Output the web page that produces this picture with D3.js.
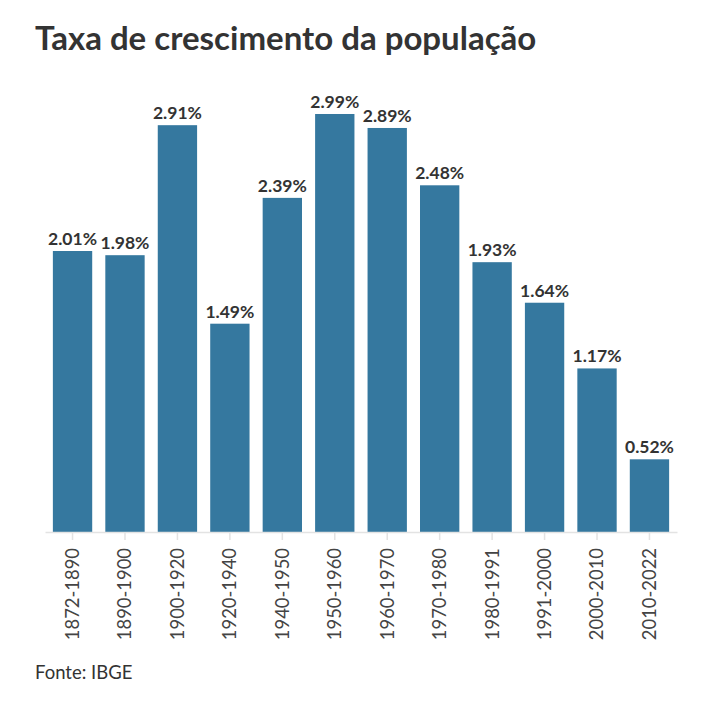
<!DOCTYPE html>
<html><head><meta charset="utf-8">
<script src="https://cdn.jsdelivr.net/npm/d3@7"></script>
<style>body{margin:0;background:#fff;} svg{display:block;}</style>
</head><body>
<script>
const periods = ["1872-1890","1890-1900","1900-1920","1920-1940","1940-1950","1950-1960","1960-1970","1970-1980","1980-1991","1991-2000","2000-2010","2010-2022"];
const rates = [2.01,1.98,2.91,1.49,2.39,2.99,2.89,2.48,1.93,1.64,1.17,0.52];
const title = "Taxa de crescimento da população";
const source = "Fonte: IBGE";

const W = 720, H = 707;
const font = "Lato, 'Source Sans Pro', sans-serif";
const svg = d3.select("body").append("svg").attr("width", W).attr("height", H);

const x = d3.scaleBand().domain(periods).range([45, 677]).paddingInner(0.25).paddingOuter(0.15);
const y = d3.scaleLinear().domain([0, 3]).range([532, 112.6]);

svg.append("text").attr("x", 35).attr("y", 50).text(title)
  .attr("font-family", font).attr("font-weight", 700).attr("font-size", 33).attr("fill", "#333");

svg.selectAll("rect.bar").data(rates).join("rect").attr("class","bar")
  .attr("x", (d,i) => x(periods[i])).attr("width", x.bandwidth())
  .attr("y", d => y(d)).attr("height", d => y(0) - y(d)).attr("fill", "#35789f");

svg.selectAll("text.val").data(rates).join("text").attr("class","val")
  .attr("x", (d,i) => x(periods[i]) + x.bandwidth()/2).attr("y", d => y(d) - 6)
  .attr("text-anchor","middle").text(d => d.toFixed(2) + "%")
  .attr("font-family", font).attr("font-weight", 700).attr("font-size", 17.5).attr("fill", "#333");

const ax = svg.append("g").attr("transform", `translate(0,${y(0)})`)
  .call(d3.axisBottom(x).tickSize(8).tickPadding(8).tickSizeOuter(0));
ax.select(".domain").attr("stroke", "#e3e3e3").attr("stroke-width", 1.5);
ax.selectAll(".tick line").attr("stroke", "#e3e3e3").attr("stroke-width", 1.5);
ax.selectAll(".tick text").attr("font-family", font).attr("font-size", 18.4).attr("fill", "#444")
  .attr("transform", "rotate(-90)").attr("text-anchor", "end").attr("x", -16).attr("y", 0).attr("dy", "0.35em");

svg.append("text").attr("x", 35).attr("y", 679).text(source)
  .attr("font-family", font).attr("font-size", 18.5).attr("fill", "#333");
</script>
</body></html>
